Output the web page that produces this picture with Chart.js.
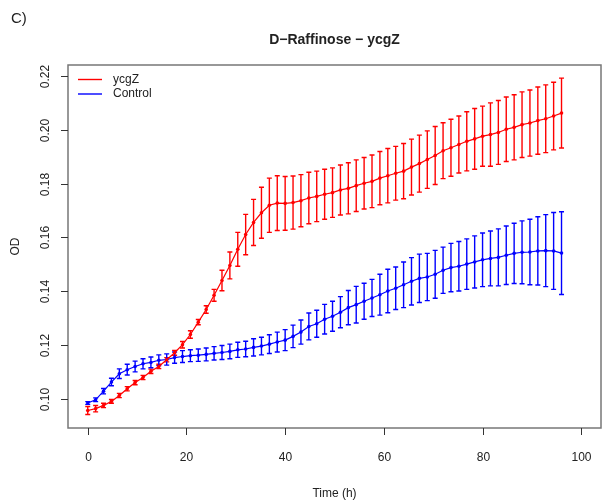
<!DOCTYPE html>
<html>
<head>
<meta charset="utf-8">
<script src="https://cdn.jsdelivr.net/npm/chart.js@4"></script>
<style>
  html, body { margin: 0; padding: 0; background: #fff; }
  canvas { display: block; }
</style>
</head>
<body>
<canvas id="chart" width="605" height="502"></canvas>
<script>
// =======================
// Data
// =======================
const hours = [0, 1.6, 3.2, 4.8, 6.4, 8, 9.6, 11.2, 12.8, 14.4, 16, 17.6, 19.2, 20.8, 22.4, 24,
  25.6, 27.2, 28.8, 30.4, 32, 33.6, 35.2, 36.8, 38.4, 40, 41.6, 43.2, 44.8, 46.4, 48, 49.6,
  51.2, 52.8, 54.4, 56, 57.6, 59.2, 60.8, 62.4, 64, 65.6, 67.2, 68.8, 70.4, 72, 73.6, 75.2,
  76.8, 78.4, 80, 81.6, 83.2, 84.8, 86.4, 88, 89.6, 91.2, 92.8, 94.4, 96]

const ycgZ = [0.0956, 0.0963, 0.0975, 0.0990, 0.1012, 0.1037, 0.1060, 0.1079, 0.1102, 0.1120,
  0.1145, 0.1171, 0.1201, 0.1239, 0.1285, 0.1332, 0.1385, 0.1440, 0.1496, 0.1556, 0.1611,
  0.1656, 0.1692, 0.1720, 0.1728, 0.1727, 0.1730, 0.1737, 0.1747, 0.1753, 0.1761, 0.1767,
  0.1777, 0.1783, 0.1793, 0.1802, 0.1809, 0.1821, 0.1830, 0.1839, 0.1847, 0.1862, 0.1875,
  0.1890, 0.1905, 0.1923, 0.1934, 0.1946, 0.1958, 0.1967, 0.1977, 0.1983, 0.1991, 0.2003,
  0.2010, 0.2020, 0.2026, 0.2035, 0.2042, 0.2052, 0.2063]

const ycgZErr = [0.0015, 0.0012, 0.0008, 0.0007, 0.0008, 0.0008, 0.0008, 0.0008, 0.0008, 0.0008,
  0.0008, 0.0009, 0.0012, 0.0014, 0.0010, 0.0014, 0.0022, 0.0038, 0.0050, 0.0063, 0.0075,
  0.0086, 0.0095, 0.0101, 0.0102, 0.0100, 0.0099, 0.0097, 0.0096, 0.0094, 0.0093, 0.0092,
  0.0093, 0.0095, 0.0096, 0.0096, 0.0098, 0.0099, 0.0101, 0.0100, 0.0103, 0.0104, 0.0106,
  0.0107, 0.0108, 0.0104, 0.0106, 0.0106, 0.0110, 0.0113, 0.0112, 0.0118, 0.0119, 0.0120,
  0.0121, 0.0122, 0.0123, 0.0125, 0.0126, 0.0126, 0.0130]

const control = [0.0984, 0.0996, 0.1028, 0.1062, 0.1093, 0.1108, 0.1120, 0.1130, 0.1135, 0.1143,
  0.1146, 0.1153, 0.1157, 0.1160, 0.1162, 0.1165, 0.1169, 0.1172, 0.1176, 0.1182, 0.1185,
  0.1191, 0.1196, 0.1203, 0.1211, 0.1218, 0.1232, 0.1248, 0.1269, 0.1279, 0.1296, 0.1307,
  0.1322, 0.1339, 0.1350, 0.1363, 0.1375, 0.1387, 0.1401, 0.1411, 0.1424, 0.1437, 0.1448,
  0.1453, 0.1463, 0.1478, 0.1488, 0.1493, 0.1501, 0.1509, 0.1517, 0.1522, 0.1526, 0.1534,
  0.1541, 0.1545, 0.1546, 0.1550, 0.1551, 0.1550, 0.1542]

const controlErr = [0.0005, 0.0007, 0.0010, 0.0014, 0.0018, 0.0020, 0.0020, 0.0019, 0.0020, 0.0020,
  0.0021, 0.0021, 0.0022, 0.0022, 0.0023, 0.0024, 0.0025, 0.0026, 0.0027, 0.0028, 0.0029,
  0.0032, 0.0033, 0.0035, 0.0037, 0.0039, 0.0042, 0.0045, 0.0050, 0.0050, 0.0055, 0.0056,
  0.0058, 0.0064, 0.0068, 0.0067, 0.0069, 0.0076, 0.0081, 0.0079, 0.0085, 0.0088, 0.0090,
  0.0088, 0.0089, 0.0086, 0.0090, 0.0092, 0.0094, 0.0097, 0.0100, 0.0102, 0.0106, 0.0109,
  0.0112, 0.0117, 0.0122, 0.0127, 0.0134, 0.0143, 0.0154]

const xTicks = [0, 20, 40, 60, 80, 100]
const yTicks = [0.10, 0.12, 0.14, 0.16, 0.18, 0.20, 0.22]
const seriesNames = ["ycgZ", "Control"]
const seriesColors = ["#ff0000", "#0000ff"]

const TEXT = "#222"
const FONT = "Liberation Sans, Arial, sans-serif"


// =======================
// Error bars
// =======================
const errorBars = {
  id: "errorBars",
  beforeDatasetsDraw(chart) {
    const ctx = chart.ctx
    const x = chart.scales.x
    const y = chart.scales.y
    ctx.save()
    ctx.lineWidth = 1.4
    chart.data.datasets.forEach(ds => {
      ctx.strokeStyle = ds.borderColor
      ds.data.forEach((p, i) => {
        const px = x.getPixelForValue(p.x)
        const top = y.getPixelForValue(p.y + ds.err[i])
        const bot = y.getPixelForValue(p.y - ds.err[i])
        ctx.beginPath()
        ctx.moveTo(px, top); ctx.lineTo(px, bot)
        ctx.moveTo(px - 2.5, top); ctx.lineTo(px + 2.5, top)
        ctx.moveTo(px - 2.5, bot); ctx.lineTo(px + 2.5, bot)
        ctx.stroke()
      })
    })
    ctx.restore()
  }
}


// =======================
// R-style frame, axes and text
// =======================
const frame = {
  id: "frame",
  afterDraw(chart) {
    const ctx = chart.ctx
    const a = chart.chartArea
    const x = chart.scales.x
    const y = chart.scales.y
    ctx.save()

    // box
    ctx.strokeStyle = "#777"
    ctx.lineWidth = 1.5
    ctx.strokeRect(a.left, a.top, a.right - a.left, a.bottom - a.top)

    ctx.fillStyle = TEXT
    ctx.font = `12px ${FONT}`

    // x axis
    ctx.lineWidth = 1
    ctx.strokeStyle = "#333"
    ctx.textAlign = "center"
    ctx.textBaseline = "middle"
    xTicks.forEach(v => {
      const px = Math.round(x.getPixelForValue(v)) + 0.5
      ctx.beginPath()
      ctx.moveTo(px, a.bottom); ctx.lineTo(px, a.bottom + 7)
      ctx.stroke()
      ctx.fillText(String(v), px, 458)
    })

    // y axis, labels rotated like R
    yTicks.forEach(v => {
      const py = Math.round(y.getPixelForValue(v)) + 0.5
      ctx.beginPath()
      ctx.moveTo(a.left, py); ctx.lineTo(a.left - 7, py)
      ctx.stroke()
      ctx.save()
      ctx.translate(46, py)
      ctx.rotate(-Math.PI / 2)
      ctx.fillText(v.toFixed(2), 0, 0)
      ctx.restore()
    })

    // axis titles
    ctx.fillText("Time (h)", (a.left + a.right) / 2, 494)
    ctx.save()
    ctx.translate(16, (a.top + a.bottom) / 2)
    ctx.rotate(-Math.PI / 2)
    ctx.fillText("OD", 0, 0)
    ctx.restore()

    // main title + panel tag
    ctx.font = `bold 14px ${FONT}`
    ctx.fillText("D\u2212Raffinose \u2212 ycgZ", (a.left + a.right) / 2, 40)
    ctx.font = `15px ${FONT}`
    ctx.textAlign = "left"
    ctx.fillText("C)", 11, 19)

    // legend
    ctx.font = `12px ${FONT}`
    ctx.lineWidth = 1.4
    seriesNames.forEach((name, i) => {
      const ly = 79.5 + i * 14.5
      ctx.strokeStyle = seriesColors[i]
      ctx.beginPath()
      ctx.moveTo(78, ly); ctx.lineTo(102, ly)
      ctx.stroke()
      ctx.fillStyle = TEXT
      ctx.fillText(name, 113, ly)
    })

    ctx.restore()
  }
}


// =======================
// Chart
// =======================
function series(values, err, i) {
  return {
    label: seriesNames[i],
    data: hours.map((h, k) => ({ x: h, y: values[k] })),
    err: err,
    showLine: true,
    borderColor: seriesColors[i],
    backgroundColor: seriesColors[i],
    borderWidth: 1.2,
    pointRadius: 1.8,
    pointBorderWidth: 0
  }
}

new Chart(document.getElementById("chart"), {
  type: "scatter",
  data: {
    datasets: [
      series(ycgZ, ycgZErr, 0),
      series(control, controlErr, 1)
    ]
  },
  options: {
    animation: false,
    responsive: false,
    devicePixelRatio: 1,
    layout: { padding: { left: 68, right: 2, top: 65, bottom: 74 } },
    plugins: { legend: { display: false }, title: { display: false }, tooltip: { enabled: false } },
    scales: {
      x: { type: "linear", min: -4, max: 104, display: false },
      y: { type: "linear", min: 0.0891, max: 0.2242, display: false }
    }
  },
  plugins: [errorBars, frame]
})
</script>
</body>
</html>
